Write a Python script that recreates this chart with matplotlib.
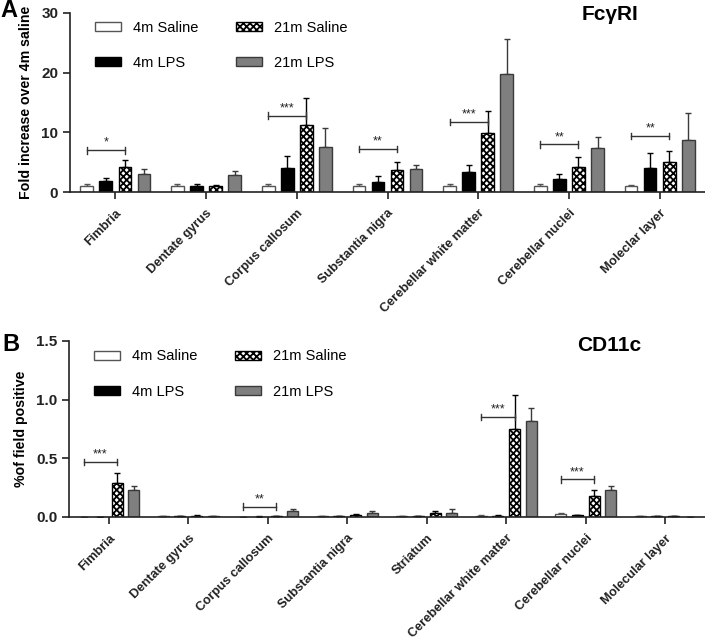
import matplotlib

matplotlib.use("Agg")

import numpy as np
from matplotlib import pyplot as plt

# Panel A: FcgRI, fold increase over 4m saline
regions_a = ["Fimbria", "Dentate gyrus", "Corpus callosum", "Substantia nigra",
             "Cerebellar white matter", "Cerebellar nuclei", "Moleclar layer"]
a_sal4 = [1.0, 1.0, 1.0, 1.0, 1.0, 1.0, 1.0]
a_sal4_err = [0.35, 0.3, 0.3, 0.3, 0.3, 0.3, 0.2]
a_lps4 = [1.9, 1.0, 4.1, 1.6, 3.3, 2.2, 4.1]
a_lps4_err = [0.45, 0.4, 1.85, 1.0, 1.3, 0.8, 2.4]
a_sal21 = [4.2, 0.95, 11.2, 3.7, 9.9, 4.2, 5.0]
a_sal21_err = [1.15, 0.15, 4.6, 1.3, 3.6, 1.7, 1.8]
a_lps21 = [3.07, 2.8, 7.6, 3.8, 19.8, 7.4, 8.7]
a_lps21_err = [0.8, 0.7, 3.1, 0.8, 5.9, 1.9, 4.5]
a_sig_idx = [0, 2, 3, 4, 5, 6]
a_sig_y = [7.0, 12.8, 7.2, 11.7, 8.0, 9.4]
a_sig_txt = ["*", "***", "**", "***", "**", "**"]

# Panel B: CD11c, % of field positive
regions_b = ["Fimbria", "Dentate gyrus", "Corpus callosum", "Substantia nigra",
             "Striatum", "Cerebellar white matter", "Cerebellar nuclei",
             "Molecular layer"]
b_sal4 = [0.003, 0.010, 0.002, 0.008, 0.006, 0.011, 0.026, 0.006]
b_sal4_err = [0.001, 0.002, 0.001, 0.002, 0.002, 0.004, 0.005, 0.001]
b_lps4 = [0.003, 0.005, 0.004, 0.005, 0.006, 0.011, 0.017, 0.007]
b_lps4_err = [0.001, 0.002, 0.002, 0.002, 0.002, 0.003, 0.004, 0.002]
b_sal21 = [0.293, 0.012, 0.006, 0.016, 0.031, 0.754, 0.176, 0.008]
b_sal21_err = [0.085, 0.003, 0.003, 0.012, 0.023, 0.29, 0.052, 0.002]
b_lps21 = [0.23, 0.008, 0.05, 0.034, 0.037, 0.82, 0.228, 0.003]
b_lps21_err = [0.037, 0.002, 0.02, 0.014, 0.028, 0.11, 0.039, 0.001]
b_sig_idx = [0, 2, 5, 6]
b_sig_y = [0.47, 0.088, 0.853, 0.32]
b_sig_txt = ["***", "**", "***", "***"]

labels = ["4m Saline", "4m LPS", "21m Saline", "21m LPS"]

plt.rcParams.update({
    "font.family": ["Liberation Sans", "DejaVu Sans"],
    "hatch.linewidth": 1.3,
    "hatch.color": "black",
    "axes.linewidth": 1.2,
    "axes.edgecolor": "#222222",
})

OFFSETS = [-0.315, -0.105, 0.105, 0.315]
WIDTH = 0.14
STYLES = [
    dict(facecolor="white", edgecolor="#555555", hatch=None, ecolor="#555555"),
    dict(facecolor="black", edgecolor="black", hatch=None, ecolor="black"),
    dict(facecolor="white", edgecolor="black", hatch="xxxxx", ecolor="black"),
    dict(facecolor="#7f7f7f", edgecolor="#3a3a3a", hatch=None, ecolor="#3a3a3a"),
]


def draw_panel(ax, regions, series, errs, sig_idx, sig_y, sig_txt, tick_h,
               ylim, yticks, yfmt, ylabel, title, title_y, leg_anchor):
    x = np.arange(len(regions))
    handles = []
    for k, (vals, err) in enumerate(zip(series, errs)):
        st = STYLES[k]
        pos = x + OFFSETS[k]
        bars = ax.bar(pos, vals, WIDTH, facecolor=st["facecolor"],
                      edgecolor=st["edgecolor"], hatch=st["hatch"],
                      linewidth=1.0, label=labels[k], zorder=2)
        ax.errorbar(pos, vals, yerr=[np.zeros(len(vals)), err], fmt="none",
                    ecolor=st["ecolor"], elinewidth=1.0, capsize=2.5,
                    capthick=1.0, zorder=1)
        handles.append(bars)

    # significance brackets from 4m saline to 21m saline
    for i, y, t in zip(sig_idx, sig_y, sig_txt):
        x0 = i + OFFSETS[0]
        x1 = i + OFFSETS[2]
        ax.plot([x0, x1], [y, y], color="#333333", lw=1.0, zorder=3)
        for xx in (x0, x1):
            ax.plot([xx, xx], [y - tick_h, y + tick_h], color="#333333",
                    lw=1.0, zorder=3)
        ax.text((x0 + x1) / 2, y + tick_h * 0.4, t, ha="center",
                va="bottom", fontsize=9, color="#222222")

    ax.set_xlim(-0.5, len(regions) - 0.5)
    ax.set_ylim(*ylim)
    ax.set_yticks(yticks)
    ax.set_yticklabels([yfmt.format(v) for v in yticks], fontweight="bold",
                       fontsize=11)
    ax.set_xticks(x)
    ax.set_xticklabels(regions, rotation=45, ha="right",
                       rotation_mode="anchor", fontweight="bold", fontsize=9.2)
    ax.tick_params(axis="both", direction="out", length=5, width=1.2,
                   colors="#222222")
    ax.tick_params(axis="x", pad=6)
    ax.spines["top"].set_visible(False)
    ax.spines["right"].set_visible(False)
    ax.set_ylabel(ylabel, fontweight="bold", fontsize=10.2, labelpad=6)
    ax.text(0.85, title_y, title, transform=ax.transAxes, ha="center",
            va="center", fontsize=15, fontweight="bold")
    ax.legend(handles=handles, loc="upper left", bbox_to_anchor=leg_anchor,
              ncol=2, frameon=False, fontsize=10.5, handlelength=1.8,
              handleheight=0.6, labelspacing=1.45, columnspacing=2.6,
              handletextpad=0.8, borderaxespad=0)


fig = plt.figure(figsize=(7.05, 6.41), dpi=100)
ax_a = fig.add_axes([70 / 705, 449 / 641, 635 / 705, 179 / 641])
ax_b = fig.add_axes([69 / 705, 124 / 641, 636 / 705, 176 / 641])

draw_panel(ax_a, regions_a, [a_sal4, a_lps4, a_sal21, a_lps21],
           [a_sal4_err, a_lps4_err, a_sal21_err, a_lps21_err],
           a_sig_idx, a_sig_y, a_sig_txt, 0.55, (0, 30), [0, 10, 20, 30],
           "{:.0f}", "Fold increase over 4m saline", "Fc\u03b3RI", 0.99,
           (0.03, 0.99))
draw_panel(ax_b, regions_b, [b_sal4, b_lps4, b_sal21, b_lps21],
           [b_sal4_err, b_lps4_err, b_sal21_err, b_lps21_err],
           b_sig_idx, b_sig_y, b_sig_txt, 0.028, (0, 1.5), [0.0, 0.5, 1.0, 1.5],
           "{:.1f}", "%of field positive", "CD11c", 0.977, (0.03, 0.985))

fig.text(0.0, 0.983, "A", fontsize=17, fontweight="bold", va="center")
fig.text(0.004, 0.463, "B", fontsize=17, fontweight="bold", va="center")

fig.savefig("out.png", dpi=100)
